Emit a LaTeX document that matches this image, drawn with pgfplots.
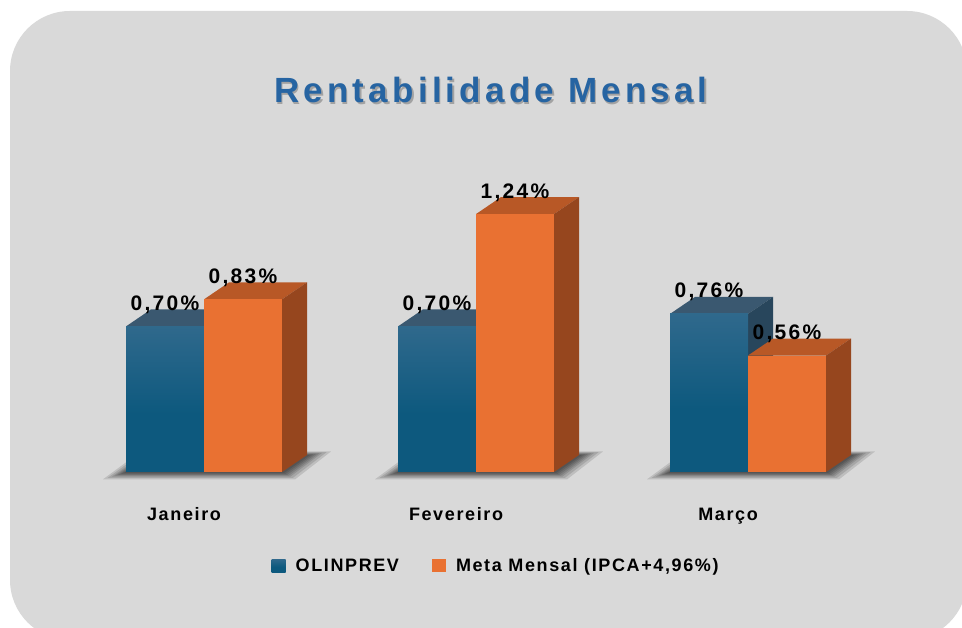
\documentclass[border=0pt]{standalone}
\usepackage{fontspec}
\setmainfont{Liberation Sans}
\newfontfamily\lsfont[LetterSpace=9]{Liberation Sans}
\newfontfamily\numfont[LetterSpace=11]{Liberation Sans}
\newfontfamily\titlefont[LetterSpace=12]{Liberation Sans}
\usepackage{pgfplots}
\pgfplotsset{compat=1.18}
\usepackage{pgfplotstable}
\definecolor{bgc}{RGB}{217,217,217}
\definecolor{titleblue}{RGB}{38,100,162}
\definecolor{bluetopc}{RGB}{76,118,152}
\definecolor{bluebotc}{RGB}{13,89,126}
\definecolor{bluelid}{RGB}{58,88,112}
\definecolor{blueside}{RGB}{40,70,92}
\definecolor{orfront}{RGB}{233,113,50}
\definecolor{orlid}{RGB}{184,88,38}
\definecolor{orside}{RGB}{150,70,30}
\pgfdeclareverticalshading{bluebar}{100bp}{color(0bp)=(bluebotc); color(45bp)=(bluebotc); color(100bp)=(bluetopc)}
\pgfdeclareplotmark{empty}{}

\pgfplotstableread{
x y
0 0.70
1 0.70
2 0.76
}\olin
\pgfplotstableread{
x y
0 0.83
1 1.24
2 0.56
}\meta

\begin{document}
\begin{tikzpicture}[x=1pt,y=1pt]
\path[use as bounding box] (0,0) rectangle (962,628);
\clip (0,0) rectangle (962,628);
\fill[bgc, rounded corners=60pt] (10,-12) rectangle (967,617);
\node[anchor=base, text=black, opacity=0.25] at (492.5,523.2) {\titlefont\bfseries\fontsize{35}{40}\selectfont Rentabilidade Mensal};
\node[anchor=base, text=titleblue] at (491,525) {\titlefont\bfseries\fontsize{35}{40}\selectfont Rentabilidade Mensal};
\begin{axis}[
  at={(204pt,156pt)}, anchor=origin,
  x=272pt, y=208pt,
  xmin=-0.75, xmax=2.75, ymin=0, ymax=1.5,
  clip=false,
  axis line style={draw=none},
  tick style={draw=none},
  ytick=\empty,
  xtick={0,1,2},
  xticklabels={Janeiro,Fevereiro,Março},
  xticklabel style={font=\lsfont\bfseries\fontsize{18}{20}\selectfont, anchor=base, yshift=-49pt, xshift=-20pt, text=black},
  /pgf/number format/assume math mode=true,
  legend columns=2,
  legend style={draw=none, fill=none, at={(0.282,-0.3)}, anchor=west,
    font=\lsfont\bfseries\fontsize{18}{20}\selectfont,
    /tikz/every even column/.append style={column sep=31pt}},
  vlabel/.style={only marks, mark=empty, forget plot, point meta=y,
    nodes near coords={\pgfmathprintnumber[fixed,fixed zerofill,precision=2,use comma]{\pgfplotspointmeta}\%},
    every node near coord/.append style={anchor=base, yshift=16pt, xshift=#1, text=black,
      font=\numfont\bfseries\fontsize{21}{24}\selectfont}},
]
% soft base shadows (layered translucent footprints)
\addplot[scatter, only marks, mark=empty, forget plot,
  scatter/@pre marker code/.code={
    \foreach \dd in {14,11,8,6,4,2,0} {
      \fill[black, opacity=0.12, draw=none]
        ({-80pt-1.5*\dd pt},{-1pt-0.45*\dd pt}) -- ({80pt+0.8*\dd pt},{-1pt-0.45*\dd pt})
        -- ({106pt+1.5*\dd pt},{17pt+0.25*\dd pt}) -- ({-52pt-0.8*\dd pt},{17pt+0.25*\dd pt}) -- cycle;
    }
  },
  scatter/@post marker code/.code={},
] table[x=x, y expr=0]{\olin};
% OLINPREV: 3D bars (lid, side, shaded front)
\addplot[scatter, only marks, mark=empty,
  visualization depends on={rawy \as \hval},
  scatter/@pre marker code/.code={
    \fill[bluelid, draw=none] (-78pt,0pt) -- (0pt,0pt) -- (25pt,17pt) -- (-53pt,17pt) -- cycle;
    \fill[blueside, draw=none] (0pt,0pt) -- (0pt,-\hval*208pt) -- (25pt,-\hval*208pt+17pt) -- (25pt,17pt) -- cycle;
    \shade[shading=bluebar, draw=none] (-78pt,-\hval*208pt) rectangle (0pt,0pt);
  },
  scatter/@post marker code/.code={},
  legend image code/.code={\path[draw=none,fill=none] (0pt,0pt) -- (22pt,0pt); \shade[shading=bluebar, draw=none] (0pt,-6.5pt) rectangle (14pt,6.5pt);},
] table[x=x, y=y]{\olin};
\addlegendentry{OLINPREV}
% Meta Mensal: 3D bars
\addplot[scatter, only marks, mark=empty,
  visualization depends on={rawy \as \hval},
  scatter/@pre marker code/.code={
    \fill[orlid, draw=none] (0pt,0pt) -- (78pt,0pt) -- (103pt,17pt) -- (25pt,17pt) -- cycle;
    \fill[orside, draw=none] (78pt,0pt) -- (78pt,-\hval*208pt) -- (103pt,-\hval*208pt+17pt) -- (103pt,17pt) -- cycle;
    \fill[orfront, draw=none] (0pt,-\hval*208pt) rectangle (78pt,0pt);
  },
  scatter/@post marker code/.code={},
  legend image code/.code={\path[draw=none,fill=none] (0pt,0pt) -- (22pt,0pt); \fill[orfront, draw=none] (0pt,-6.5pt) rectangle (14pt,6.5pt);},
] table[x=x, y=y]{\meta};
\addlegendentry{Meta Mensal (IPCA+4,96\%)}
% value labels
\addplot[vlabel=-39pt] table[x=x, y=y]{\olin};
\addplot[vlabel=39pt] table[x=x, y=y]{\meta};
\end{axis}
\end{tikzpicture}
\end{document}
